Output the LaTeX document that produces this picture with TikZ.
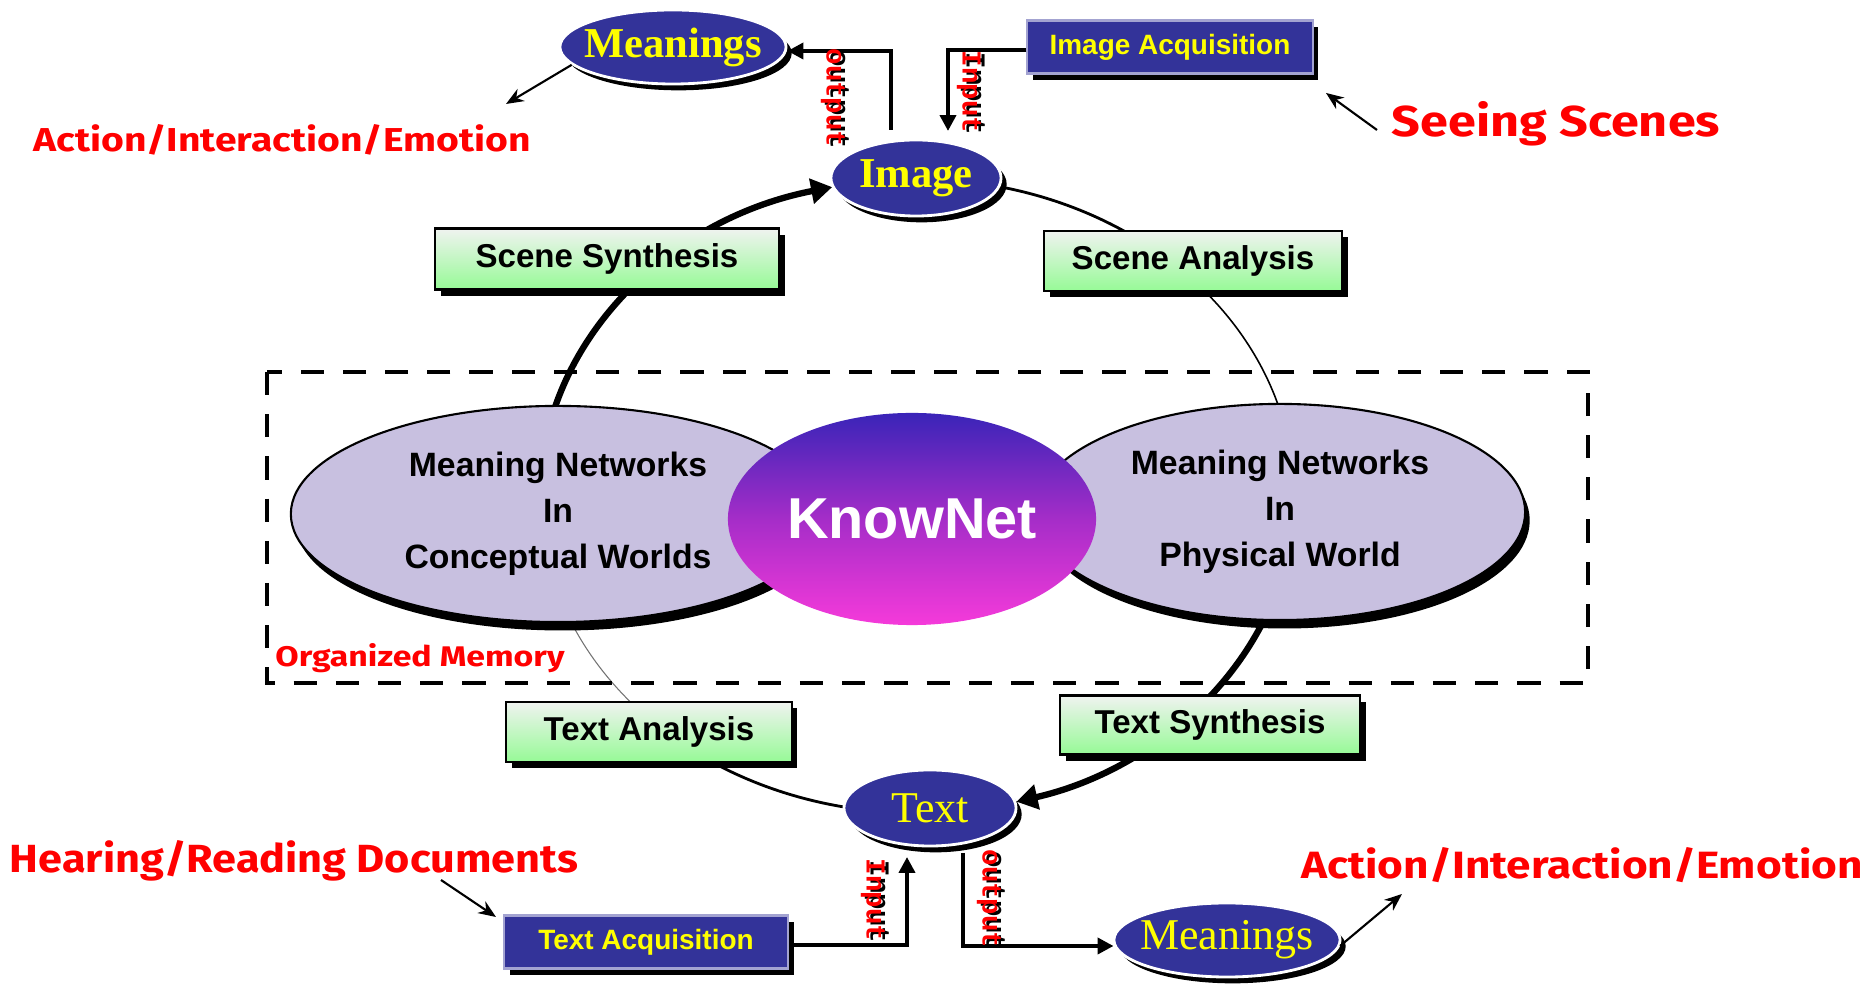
\documentclass[tikz,border=0pt]{standalone}
\usepackage{fontspec}
\usepackage{graphicx}
\setmainfont{Liberation Serif}
\newfontfamily\sansb{Liberation Sans}
\newfontfamily\comicf{Fira Sans}
\newfontfamily\monof{Liberation Mono}
\usetikzlibrary{shapes.geometric,shadows,arrows.meta,calc}
\pgfdeclarelayer{bg}
\pgfsetlayers{bg,main}
\definecolor{navy}{RGB}{51,51,153}
\definecolor{lav}{RGB}{200,192,224}
\definecolor{gtop}{RGB}{240,243,240}
\definecolor{gbot}{RGB}{150,250,150}
\definecolor{ktop}{RGB}{58,36,184}
\definecolor{kmid}{RGB}{165,45,200}
\definecolor{kbot}{RGB}{245,58,218}
\definecolor{myred}{RGB}{255,0,0}
\definecolor{myyellow}{RGB}{255,255,0}
\newcommand{\fitbox}[3]{\resizebox{#1}{#2}{#3}}
\begin{document}
\begin{tikzpicture}[x=0.01cm,y=-0.01cm,
  blkshadow/.style={drop shadow={shadow xshift=1.6pt,shadow yshift=-1.8pt,fill=black,opacity=1}},
  navyell/.style={ellipse,fill=navy,draw=white,line width=0.8pt,inner sep=0pt,blkshadow},
  lavell/.style={ellipse,fill=lav,draw=black,line width=0.6pt,inner sep=0pt,
    drop shadow={shadow xshift=1.3pt,shadow yshift=-2.4pt,fill=black,opacity=1}},
  greenbox/.style={rectangle,draw=black,line width=0.6pt,top color=gtop,bottom color=gbot,
    inner sep=0pt,blkshadow,font=\sansb\bfseries\fontsize{9.4}{11}\selectfont},
  navybox/.style={rectangle,fill=navy,draw=navy!45,line width=0.6pt,inner sep=0pt,
    text=myyellow,blkshadow,font=\sansb\bfseries\fontsize{7.95}{9}\selectfont},
  serifb/.style={text=myyellow,font=\bfseries\fontsize{12.1}{14}\selectfont},
  serifr/.style={text=myyellow,font=\fontsize{12.5}{14}\selectfont},
  nettext/.style={align=center,font=\sansb\bfseries\fontsize{9.6}{13.1}\selectfont},
  ioline/.style={draw=black,line width=1.1pt},
  iotip/.style={-{Triangle[length=4.5pt,width=4.5pt]}},
  iolabel/.style={rotate=-90,inner sep=0pt,font=\monof\bfseries\fontsize{7.8}{9}\selectfont},
  redtext/.style={text=myred,inner sep=0pt,anchor=base,font=\comicf\bfseries},
  redarrow/.style={draw=black,line width=0.6pt,-{Stealth[length=5pt,width=4pt]}},
  ringthick/.style={draw=black,line width=1.8pt},
  ringmid/.style={draw=black,line width=0.8pt},
  ringthin/.style={draw=black,line width=0.45pt},
  ringhair/.style={draw=black!55,line width=0.3pt},
  ringtip/.style={-{Triangle[length=6pt,width=7pt]}}
]
\begin{pgfonlayer}{bg}
\fill[white] (0,0) rectangle (1875,986);
\end{pgfonlayer}
\useasboundingbox (0,0) rectangle (1875,986);

% organized memory frame
\draw[line width=1.4pt,dash pattern=on 6.6pt off 5.4pt] (267,372) rectangle (1588,683);
\node[redtext] (org) at (420,667) {\fitbox{2.89cm}{0.23cm}{Organized Memory}};

% memory ellipses
\node[lavell,minimum width=5.34cm,minimum height=2.16cm] (left) at (558,514) {};
\node[lavell,minimum width=4.90cm,minimum height=2.16cm] (right) at (1280,512) {};
\node[nettext] at (558,514) {Meaning Networks\\In\\Conceptual Worlds};
\node[nettext] at (1280,512) {Meaning Networks\\In\\Physical World};
\node[ellipse,inner sep=0pt,minimum width=3.68cm,minimum height=2.12cm,
  top color=ktop,bottom color=kbot,middle color=kmid] (kn) at (912,519) {};
\node[text=white,font=\sansb\bfseries\fontsize{16.4}{19}\selectfont] at (kn) {KnowNet};

% green process boxes
\node[greenbox,minimum width=3.44cm,minimum height=0.61cm] (ss) at (607,259) {Scene Synthesis};
\node[greenbox,minimum width=2.98cm,minimum height=0.60cm] (sa) at (1193,261) {Scene Analysis};
\node[greenbox,minimum width=2.85cm,minimum height=0.60cm] (ta) at (649,732) {Text Analysis};
\node[greenbox,minimum width=3.00cm,minimum height=0.59cm] (ts) at (1210,725) {Text Synthesis};

% image / text / meanings
\node[navyell,minimum width=1.70cm,minimum height=0.76cm] (img) at (916,178) {};
\node[serifb] at (img) {Image};
\node[navyell,minimum width=1.72cm,minimum height=0.76cm] (txt) at (930,808) {};
\node[serifr] at (txt) {Text};
\node[navyell,minimum width=2.26cm,minimum height=0.74cm] (mtop) at (673,47) {};
\node[serifb] at (mtop) {Meanings};
\node[navyell,minimum width=2.26cm,minimum height=0.74cm] (mbot) at (1227,940) {};
\node[serifr] at (mbot) {Meanings};

% acquisition boxes
\node[navybox,minimum width=2.85cm,minimum height=0.53cm] (iacq) at (1170,47) {Image Acquisition};
\node[navybox,minimum width=2.84cm,minimum height=0.53cm] (tacq) at (646,942) {Text Acquisition};

% ring
\coordinate (rc) at (917,496);
\begin{pgfonlayer}{bg}
\draw[ringthick,ringtip] (rc) ++(185:377 and 317) arc[start angle=185,end angle=257,x radius=377,y radius=317];
\draw[ringmid] (rc) ++(282.8:377 and 317) arc[start angle=282.8,end angle=312,x radius=377,y radius=317];
\draw[ringthin] (rc) ++(312:377 and 317) arc[start angle=312,end angle=348,x radius=377,y radius=317];
\draw[ringthick,ringtip] (rc) ++(15:377 and 317) arc[start angle=15,end angle=74.7,x radius=377,y radius=317];
\draw[ringmid] (rc) ++(101:377 and 317) arc[start angle=101,end angle=125,x radius=377,y radius=317];
\draw[ringhair] (rc) ++(125:377 and 317) arc[start angle=125,end angle=160,x radius=377,y radius=317];
\end{pgfonlayer}

% input / output connectors
\coordinate (oT) at (891,130);
\coordinate (iT) at (948,131);
\coordinate (iB) at (907,857);
\coordinate (oB) at (963,853);
\draw[ioline,iotip] (oT) |- ([yshift=-0.04cm]mtop.east);
\draw[ioline,iotip] ([yshift=-0.03cm]iacq.west) -| (iT);
\draw[ioline,iotip] ([yshift=-0.03cm]tacq.east) -| (iB);
\draw[ioline,iotip] (oB) |- ([yshift=-0.06cm,xshift=0.01cm]mbot.west);

\node[iolabel,text=black] at (837,100) {output};
\node[iolabel,text=myred] (lo1) at (833,98) {output};
\node[iolabel,text=black] at (973,94) {Input};
\node[iolabel,text=myred] (li1) at (969,92) {Input};
\node[iolabel,text=black] at (877,902) {Input};
\node[iolabel,text=myred] (li2) at (873,900) {Input};
\node[iolabel,text=black] at (993,901) {output};
\node[iolabel,text=myred] (lo2) at (989,899) {output};

% red annotations
\node[redtext] (act1) at (282,152) {\fitbox{4.97cm}{0.27cm}{Action/Interaction/Emotion}};
\node[redtext] (seeing) at (1556,137) {\fitbox{3.28cm}{0.35cm}{Seeing Scenes}};
\node[redtext] (hearing) at (294,873) {\fitbox{5.68cm}{0.32cm}{Hearing/Reading Documents}};
\node[redtext] (act2) at (1582,879) {\fitbox{5.61cm}{0.31cm}{Action/Interaction/Emotion}};

\coordinate (a1e) at (506,104);
\coordinate (a2s) at (1377,130);
\coordinate (a2e) at (1326,93);
\coordinate (a3s) at (441,880);
\coordinate (a3e) at (496,917);
\coordinate (a4e) at (1402,894);
\draw[redarrow] (mtop.190) -- (a1e);
\draw[redarrow] (a2s) -- (a2e);
\draw[redarrow] (a3s) -- (a3e);
\draw[redarrow] (mbot.357) -- (a4e);
\end{tikzpicture}
\end{document}
